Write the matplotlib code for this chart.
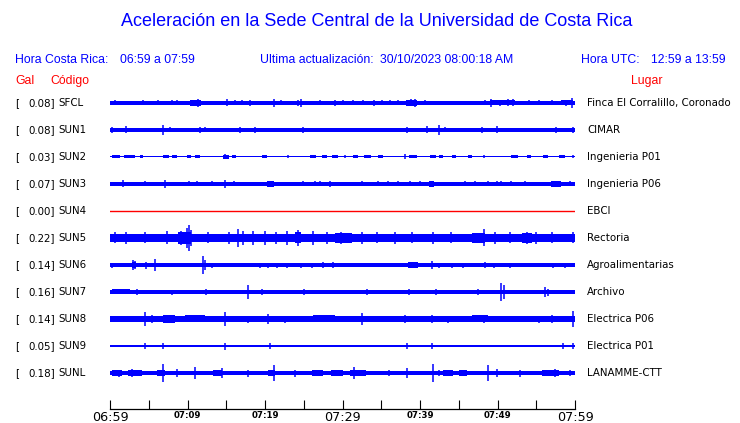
import matplotlib
matplotlib.use("Agg")
import matplotlib.pyplot as plt
import matplotlib.transforms as mtransforms

# ---- data ------------------------------------------------------------------
STATIONS = ["SFCL", "SUN1", "SUN2", "SUN3", "SUN4", "SUN5",
            "SUN6", "SUN7", "SUN8", "SUN9", "SUNL"]
GAL = [0.08, 0.08, 0.03, 0.07, 0.00, 0.22, 0.14, 0.16, 0.14, 0.05, 0.18]
PLACES = ["Finca El Corralillo, Coronado", "CIMAR", "Ingenieria P01",
          "Ingenieria P06", "EBCI", "Rectoria", "Agroalimentarias", "Archivo",
          "Electrica P06", "Electrica P01", "LANAMME-CTT"]

# minutes after 06:59 local time
TICK_MINUTES = [0, 5, 10, 15, 20, 25, 30, 35, 40, 45, 50, 55, 60]
TICK_LABELS = ["06:59", "", "07:09", "", "07:19", "", "07:29", "",
               "07:39", "", "07:49", "", "07:59"]
BIG_LABELS = ["06:59", "07:29", "07:59"]
T_START, T_END = 0, 60

# trace amplitudes (screen-pixel-like units)
BASE = [2.0, 1.6, 0.5, 2.0, 0.0, 4.2, 1.6, 1.9, 3.0, 1.3, 1.9]

BURSTS = {  # (start minute, end minute, half amplitude)
    "SFCL": [(10.3, 11.8, 2.6), (38.2, 39.6, 2.7), (49.0, 52.3, 2.5), (58.2, 59.8, 2.5)],
    "SUN1": [(0.0, 2.2, 2.1)],
    "SUN2": [(0.2, 1.3, 1.5), (1.8, 3.2, 1.5), (3.9, 4.3, 1.5), (6.9, 7.6, 1.5),
             (8.0, 8.6, 1.5), (9.9, 10.5, 1.5), (11.0, 11.6, 1.5), (14.6, 15.3, 1.8),
             (15.7, 16.2, 1.5), (19.6, 20.2, 1.5), (25.8, 26.6, 1.5), (27.3, 28.0, 1.5),
             (28.6, 29.4, 1.5), (31.4, 32.0, 1.5), (32.8, 33.7, 1.5), (34.6, 35.2, 1.5),
             (38.6, 39.6, 1.5), (41.3, 42.0, 1.5), (42.5, 43.0, 1.5), (44.1, 44.6, 1.5),
             (46.2, 46.7, 1.5), (51.8, 52.7, 1.5), (53.8, 54.3, 1.5), (55.9, 56.5, 1.5),
             (57.9, 58.7, 1.5)],
    "SUN3": [(0.2, 2.6, 2.4), (7.5, 8.6, 2.4), (20.2, 21.1, 2.6), (29.0, 30.1, 2.4),
             (41.1, 41.8, 3.0), (42.4, 43.6, 2.4), (55.0, 55.7, 2.4), (56.9, 58.2, 2.7)],
    "SUN4": [],
    "SUN5": [(8.8, 10.5, 6.0), (23.9, 24.7, 5.5), (29.0, 31.2, 5.0), (46.7, 48.4, 5.3),
             (53.1, 54.4, 5.3)],
    "SUN6": [(2.9, 3.3, 3.0), (7.5, 8.2, 2.3), (8.7, 9.3, 2.3), (14.6, 15.2, 2.3),
             (15.6, 16.0, 2.3), (30.1, 30.8, 2.1), (31.5, 32.2, 2.1), (33.8, 34.5, 2.1),
             (35.2, 36.0, 2.1), (38.5, 39.8, 2.6), (52.7, 53.6, 2.4), (54.4, 55.3, 2.4)],
    "SUN7": [(0.2, 2.6, 2.5), (3.2, 4.6, 2.3), (5.2, 6.5, 2.3), (9.0, 11.0, 2.2),
             (12.0, 14.2, 2.2), (15.0, 17.4, 2.2), (18.2, 21.3, 2.4), (22.2, 24.5, 2.2),
             (25.5, 28.0, 2.2), (29.0, 32.0, 2.2), (33.0, 36.5, 2.2), (37.5, 40.5, 2.2),
             (41.5, 44.5, 2.2), (45.5, 50.0, 2.2), (51.7, 55.3, 2.3), (56.8, 59.8, 2.3)],
    "SUN8": [(0.2, 4.1, 3.4), (6.9, 8.4, 4.0), (9.7, 12.2, 3.5), (26.2, 29.0, 3.5),
             (35.0, 37.2, 3.4), (46.7, 48.8, 3.5)],
    "SUN9": [],
    "SUNL": [(0.2, 1.5, 3.0), (2.3, 4.1, 3.0), (6.0, 7.1, 3.3), (13.3, 14.4, 2.8),
             (20.4, 21.3, 3.0), (26.0, 27.5, 2.5), (28.5, 30.0, 2.5), (31.0, 33.0, 2.5),
             (43.0, 44.2, 2.6), (45.0, 46.0, 2.6), (55.7, 57.9, 3.0)],
}

SPIKES = {  # (minute, half amplitude)
    "SFCL": [(0.6, 2.5), (4.3, 2.5), (6.2, 2.5), (8.0, 2.5), (8.6, 2.5), (11.4, 4.3),
             (15.1, 3.5), (16.1, 2.5), (17.0, 2.5), (18.1, 3.0), (21.1, 4.0), (22.0, 2.5),
             (24.3, 3.0), (24.7, 4.0), (27.1, 2.5), (29.0, 3.0), (30.1, 2.5), (31.4, 2.5),
             (32.7, 2.5), (34.0, 3.0), (35.1, 2.5), (36.1, 2.5), (37.2, 2.5), (38.9, 3.5),
             (39.4, 4.0), (40.6, 2.5), (48.4, 2.5), (49.2, 4.0), (50.3, 3.0), (51.4, 3.5),
             (52.0, 3.5), (54.0, 2.5), (55.3, 2.5), (57.0, 2.5), (58.9, 3.0), (59.6, 5.0)],
    "SUN1": [(0.2, 3.0), (2.0, 3.5), (6.8, 5.0), (7.7, 2.5), (11.6, 3.0), (12.3, 2.5),
             (16.8, 3.0), (18.7, 3.0), (24.9, 3.0), (38.3, 3.0), (40.9, 3.5), (42.4, 5.0),
             (43.2, 2.5), (48.0, 3.0), (49.9, 3.5), (57.6, 3.0), (59.8, 3.0)],
    "SUN2": [(14.9, 2.5), (38.1, 2.5), (23.0, 1.5), (30.3, 1.5), (48.2, 1.5), (59.8, 1.5)],
    "SUN3": [(1.7, 3.5), (4.5, 2.5), (7.1, 4.0), (10.2, 2.5), (11.2, 2.5), (13.1, 2.5),
             (14.8, 4.0), (16.0, 2.5), (24.9, 2.5), (26.4, 2.5), (27.1, 2.5), (28.4, 3.0),
             (32.5, 2.5), (34.6, 2.5), (35.9, 2.5), (37.2, 2.5), (38.7, 2.5), (40.0, 2.5),
             (45.8, 2.5), (47.1, 2.5), (48.8, 2.5), (49.9, 2.5), (50.5, 2.5), (51.8, 2.5),
             (53.5, 2.5), (59.4, 2.5)],
    "SUN4": [],
    "SUN5": [(0.6, 5.5), (2.0, 6.0), (4.5, 5.5), (7.3, 6.5), (9.2, 7.0), (9.9, 10.0),
             (10.2, 13.0), (10.5, 8.0), (12.6, 5.5), (15.3, 6.0), (16.5, 9.0), (17.2, 7.0),
             (18.5, 7.0), (20.0, 7.0), (21.4, 6.0), (22.8, 7.0), (24.2, 8.0), (26.2, 7.0),
             (28.0, 6.0), (29.8, 6.0), (32.5, 6.0), (34.5, 5.5), (36.8, 6.0), (39.0, 5.5),
             (41.7, 6.0), (44.0, 5.5), (48.2, 8.5), (49.7, 6.0), (51.6, 5.5), (53.8, 6.0),
             (55.0, 6.0), (57.0, 5.5), (59.8, 5.5)],
    "SUN6": [(0.2, 2.5), (3.0, 5.0), (3.2, 4.0), (4.7, 3.5), (5.8, 6.0), (12.0, 9.0),
             (12.3, 5.0), (13.1, 2.5), (19.4, 2.5), (20.4, 2.5), (21.6, 2.5), (22.8, 2.5),
             (24.7, 2.5), (26.0, 2.5), (27.5, 3.0), (28.8, 3.0), (41.5, 4.0), (42.4, 2.5),
             (44.1, 2.5), (45.6, 2.5), (48.4, 3.0), (49.5, 2.5), (51.6, 2.5), (57.2, 2.5),
             (58.7, 2.5)],
    "SUN7": [(3.5, 3.0), (8.0, 2.5), (12.4, 3.0), (17.8, 7.0), (19.6, 3.0), (25.0, 2.8),
             (33.2, 2.8), (38.6, 2.8), (42.0, 2.8), (47.5, 3.0), (50.5, 9.0), (50.8, 7.0),
             (56.1, 5.0), (56.5, 3.5)],
    "SUN8": [(4.5, 7.0), (5.4, 4.0), (7.6, 4.5), (14.8, 7.0), (17.8, 3.5), (20.4, 5.0),
             (22.6, 3.5), (32.5, 6.0), (38.1, 4.0), (41.5, 4.0), (43.6, 3.5), (48.2, 4.0),
             (55.3, 3.5), (57.0, 4.0), (59.8, 8.0)],
    "SUN9": [(4.5, 2.5), (6.9, 2.5), (14.8, 3.5), (20.6, 3.0), (38.3, 2.5), (41.5, 2.5),
             (58.5, 2.5), (59.8, 2.5)],
    "SUNL": [(1.2, 3.5), (2.8, 4.0), (6.9, 9.0), (8.6, 4.0), (11.0, 6.0), (14.4, 5.0),
             (17.8, 3.5), (21.1, 8.0), (23.9, 3.5), (31.5, 6.0), (36.0, 3.0), (38.3, 5.0),
             (41.7, 9.0), (42.5, 3.0), (48.8, 8.0), (49.9, 4.0), (52.9, 3.5), (57.4, 4.0),
             (59.4, 3.0)],
}

# ---- layout ----------------------------------------------------------------
W, H = 740, 423
BLUE = "#0000ff"
RED = "#ff0000"
HEAD_FONT = ["Liberation Sans", "DejaVu Sans"]
LABEL_FONT = ["DejaVu Sans"]
ROW_PX = 27.0  # one row of the plot in pixels


def fx(x):
    return x / W


def fy(y):
    return 1 - y / H


fig = plt.figure(figsize=(W / 100, H / 100), dpi=100)

# rows sit at y = 103 + 27*i px; time axis line at y = 409 px
ax_top, ax_bot = 89.5, 409
ax = fig.add_axes([fx(110), fy(ax_bot), fx(575) - fx(110), (ax_bot - ax_top) / H])
ax.set_xlim(T_START, T_END)
ax.set_ylim((ax_bot - 103) / ROW_PX, -0.5)

for i, code in enumerate(STATIONS):
    if GAL[i] == 0:
        ax.axhline(i, color=RED, lw=1.0)
        continue
    s = 1 / ROW_PX
    b = BASE[i] * s
    ax.fill_between([T_START, T_END], i - b, i + b, color=BLUE, lw=0)
    for m0, m1, h in BURSTS[code]:
        ax.fill_between([m0, m1], i - h * s, i + h * s, color=BLUE, lw=0)
    for m, h in SPIKES[code]:
        ax.vlines(m, i - h * s, i + h * s, color=BLUE, lw=1.1)

for side in ["left", "right", "top"]:
    ax.spines[side].set_visible(False)
ax.spines["bottom"].set_linewidth(0.9)
ax.set_yticks([])
ax.set_xticks(TICK_MINUTES)
ax.set_xticklabels(TICK_LABELS, family=LABEL_FONT)
ax.tick_params(axis="x", direction="in", length=6.5, width=0.8, pad=1.5)
for lab in ax.get_xticklabels():
    if lab.get_text() in BIG_LABELS:
        lab.set_fontsize(9.2)
    else:
        lab.set_fontsize(6.2)
        lab.set_fontweight("bold")

# ---- texts -----------------------------------------------------------------
fig.text(fx(377), fy(22), "Aceleración en la Sede Central de la Universidad de Costa Rica",
         ha="center", va="center", fontsize=12.95, color=BLUE, family=HEAD_FONT)

header = [(15, "Hora Costa Rica:"), (120, "06:59 a 07:59"),
          (260, "Ultima actualización:"), (380, "30/10/2023 08:00:18 AM"),
          (581, "Hora UTC:"), (651, "12:59 a 13:59")]
for x, t in header:
    fig.text(fx(x), fy(60), t, ha="left", va="center", fontsize=8.8, color=BLUE,
             family=HEAD_FONT)

for x, t in [(15, "Gal"), (50, "Código"), (631, "Lugar")]:
    fig.text(fx(x), fy(81), t, ha="left", va="center", fontsize=8.8, color=RED,
             family=HEAD_FONT)

trans = mtransforms.blended_transform_factory(fig.transFigure, ax.transData)
for i, code in enumerate(STATIONS):
    kw = dict(transform=trans, va="center", fontsize=7.4, family=LABEL_FONT,
              clip_on=False)
    ax.text(fx(15), i, "[", ha="left", **kw)
    ax.text(fx(55), i, f"{GAL[i]:.2f}]", ha="right", **kw)
    ax.text(fx(58), i, code, ha="left", **kw)
    ax.text(fx(587), i, PLACES[i], ha="left", **kw)

fig.savefig("out.png", dpi=100)
